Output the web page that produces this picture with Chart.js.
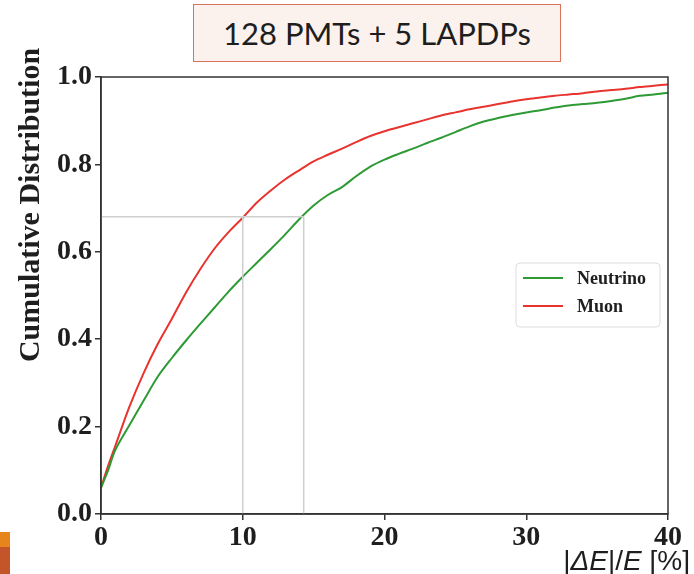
<!DOCTYPE html>
<html>
<head>
<meta charset="utf-8">
<script src="https://cdn.jsdelivr.net/npm/chart.js@4"></script>
<style>
  body { margin: 0; background: #fff; }
  #wrap { position: relative; width: 694px; height: 574px; overflow: hidden; }
  #cdfChart { position: absolute; left: 0; top: 0; }
  #titleBox {
    position: absolute; left: 193px; top: 4px; width: 366px; height: 56px;
    border: 1.5px solid #d9735d; background: #fcf2ed;
    font-family: Lato, "Open Sans", sans-serif; font-size: 31px; color: #1e1e1e;
    display: flex; align-items: center; justify-content: center;
  }
  .tab { position: absolute; left: 0; width: 10px; }
</style>
</head>
<body>
<div id="wrap">
  <canvas id="cdfChart" width="694" height="574"></canvas>
  <div id="titleBox">128 PMTs + 5 LAPDPs</div>
  <div class="tab" style="top:532px;height:15px;background:#e8841c"></div>
  <div class="tab" style="top:547px;height:27px;background:#c4552b"></div>
</div>
<script>
// |dE|/E in percent
const xValues = [0, 0.5, 1, 2, 3, 4, 5, 6, 7, 8, 9, 10, 11, 12, 13, 14, 15, 16, 17, 18, 19, 20,
  21, 22, 23, 24, 25, 26, 27, 28, 29, 30, 31, 32, 33, 34, 35, 36, 37, 38, 39, 40];

const neutrinoValues = [0.06, 0.10, 0.146, 0.203, 0.259, 0.314, 0.357, 0.397, 0.435, 0.472, 0.509, 0.543,
  0.575, 0.607, 0.640, 0.675, 0.706, 0.730, 0.748, 0.773, 0.795, 0.811, 0.824, 0.836, 0.849, 0.861,
  0.874, 0.887, 0.898, 0.906, 0.913, 0.919, 0.924, 0.930, 0.935, 0.938, 0.941, 0.945, 0.950, 0.957,
  0.960, 0.964];

const muonValues = [0.06, 0.11, 0.155, 0.245, 0.322, 0.389, 0.447, 0.507, 0.560, 0.607, 0.645, 0.678,
  0.713, 0.741, 0.766, 0.787, 0.807, 0.822, 0.836, 0.851, 0.865, 0.876, 0.885, 0.894, 0.903, 0.912,
  0.919, 0.926, 0.932, 0.938, 0.944, 0.949, 0.953, 0.957, 0.960, 0.963, 0.967, 0.970, 0.973, 0.977,
  0.980, 0.983];

const seriesNames = ['Neutrino', 'Muon'];
const xTicks = [0, 10, 20, 30, 40];
const yTicks = [0, 0.2, 0.4, 0.6, 0.8, 1.0];

// 68% guide lines
const refLevel = 0.68;
const refMuonX = 10;
const refNeutrinoX = 14.3;

const GREEN = '#2e9a35';
const RED = '#e8332e';
const GUIDE = '#cfcfcf';
const AXIS = '#333333';
const SERIF = '"Liberation Serif", "DejaVu Serif", serif';

function toPoints(xs, ys) {
  return xs.map((x, i) => ({ x: x, y: ys[i] }));
}

function guide(points) {
  return {
    data: points, borderColor: GUIDE, borderWidth: 1.5, pointRadius: 0,
    tension: 0, isGuide: true
  };
}

const framePlugin = {
  id: 'frame',
  afterDatasetsDraw(chart) {
    const { ctx, chartArea: a } = chart;
    ctx.save();
    ctx.strokeStyle = AXIS;
    ctx.lineWidth = 1.5;
    ctx.strokeRect(a.left, a.top, a.right - a.left, a.bottom - a.top);
    ctx.restore();
  },
  afterDraw(chart) {
    const ctx = chart.ctx;
    ctx.save();

    // y title
    ctx.translate(31, 205);
    ctx.rotate(-Math.PI / 2);
    ctx.font = 'bold 30px ' + SERIF;
    ctx.fillStyle = '#1e1e1e';
    ctx.textAlign = 'center';
    ctx.textBaseline = 'middle';
    ctx.fillText('Cumulative Distribution', 0, 0);
    ctx.restore();

    // x title, right aligned
    ctx.save();
    const parts = [
      ['|', 'normal'], ['ΔE', 'italic'], ['|/', 'normal'], ['E', 'italic'], [' [%]', 'normal']
    ];
    let total = 0;
    parts.forEach(p => {
      ctx.font = p[1] + ' 28px "Liberation Sans", Arial, sans-serif';
      total += ctx.measureText(p[0]).width;
    });
    let x = 690 - total;
    ctx.fillStyle = '#1e1e1e';
    ctx.textBaseline = 'alphabetic';
    parts.forEach(p => {
      ctx.font = p[1] + ' 28px "Liberation Sans", Arial, sans-serif';
      ctx.fillText(p[0], x, 570);
      x += ctx.measureText(p[0]).width;
    });
    ctx.restore();

    // legend
    ctx.save();
    const lx = 516, ly = 263, lw = 144, lh = 64;
    ctx.fillStyle = 'rgba(255,255,255,0.9)';
    ctx.strokeStyle = '#dddddd';
    ctx.lineWidth = 1;
    ctx.beginPath();
    ctx.roundRect(lx, ly, lw, lh, 4);
    ctx.fill();
    ctx.stroke();
    const items = chart.data.datasets.filter(d => !d.isGuide);
    ctx.font = 'bold 18px ' + SERIF;
    ctx.textBaseline = 'middle';
    items.forEach((d, i) => {
      const y = 278 + i * 28;
      ctx.strokeStyle = d.borderColor;
      ctx.lineWidth = 2;
      ctx.beginPath();
      ctx.moveTo(523, y);
      ctx.lineTo(563, y);
      ctx.stroke();
      ctx.fillStyle = '#1e1e1e';
      ctx.fillText(d.label, 577, y + 1);
    });
    ctx.restore();
  }
};

new Chart(document.getElementById('cdfChart'), {
  type: 'line',
  data: {
    datasets: [
      guide([{ x: 0, y: refLevel }, { x: refNeutrinoX, y: refLevel }]),
      guide([{ x: refMuonX, y: 0 }, { x: refMuonX, y: refLevel }]),
      guide([{ x: refNeutrinoX, y: 0 }, { x: refNeutrinoX, y: refLevel }]),
      {
        label: seriesNames[0],
        data: toPoints(xValues, neutrinoValues),
        borderColor: GREEN, borderWidth: 2, pointRadius: 0, tension: 0.3
      },
      {
        label: seriesNames[1],
        data: toPoints(xValues, muonValues),
        borderColor: RED, borderWidth: 2, pointRadius: 0, tension: 0.3
      }
    ]
  },
  options: {
    responsive: false,
    animation: false,
    layout: { padding: { top: 77, right: 26, left: 0, bottom: 0 } },
    plugins: {
      legend: { display: false },
      tooltip: { enabled: false }
    },
    scales: {
      x: {
        type: 'linear', min: 0, max: 40,
        afterBuildTicks: s => { s.ticks = xTicks.map(v => ({ value: v })); },
        afterFit: s => { s.height = 60; },
        grid: { drawOnChartArea: false, drawTicks: true, tickLength: 6, color: AXIS, lineWidth: 1.5 },
        border: { color: AXIS, width: 1.5 },
        ticks: {
          padding: 1, color: '#1e1e1e', maxRotation: 0,
          font: { family: SERIF, size: 28, weight: 'bold' }
        }
      },
      y: {
        type: 'linear', min: 0, max: 1,
        afterBuildTicks: s => { s.ticks = yTicks.map(v => ({ value: v })); },
        afterFit: s => { s.width = 101; },
        grid: { drawOnChartArea: false, drawTicks: true, tickLength: 6, color: AXIS, lineWidth: 1.5 },
        border: { color: AXIS, width: 1.5 },
        ticks: {
          padding: 3, color: '#1e1e1e',
          font: { family: SERIF, size: 28, weight: 'bold' },
          callback: v => Number(v).toFixed(1)
        }
      }
    }
  },
  plugins: [framePlugin]
});
</script>
</body>
</html>
